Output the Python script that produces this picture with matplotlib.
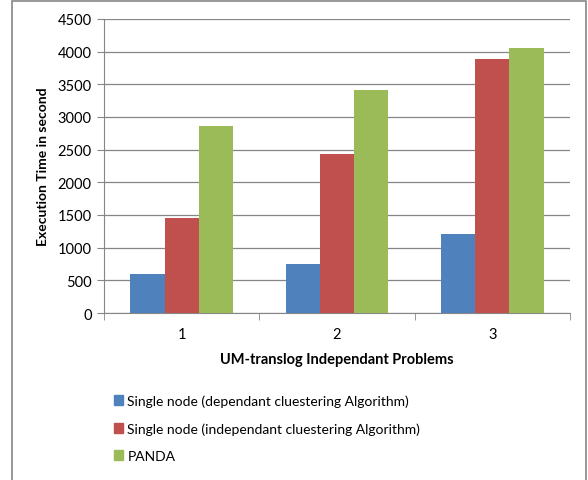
import matplotlib.pyplot as plt
import matplotlib.patches as mpatches
import numpy as np

plt.rcParams['font.family'] = ['Lato', 'DejaVu Sans']

problems = ['1', '2', '3']
dependant = [600, 750, 1210]
independant = [1450, 2440, 3890]
panda = [2860, 3410, 4060]
series_names = ['Single node (dependant cluestering Algorithm)',
                'Single node (independant cluestering Algorithm)',
                'PANDA']
colors = ['#4F81BD', '#C0504D', '#9BBB59']

fig = plt.figure(figsize=(5.88, 4.81), dpi=100)
ax = fig.add_axes([104/588, 1 - 314/481, (570-104)/588, (314-20)/481])

x = np.arange(1, len(problems) + 1)
w = 0.22
for i, vals in enumerate([dependant, independant, panda]):
    ax.bar(x + (i - 1) * w, vals, w, color=colors[i], zorder=3,
           label=series_names[i])

ax.set_xlim(0.5, 3.5)
ax.set_ylim(0, 4500)
ax.set_yticks(range(0, 4501, 500))
ax.set_xticks(x)
ax.set_xticklabels(problems)
ax.set_xticks([0.5, 1.5, 2.5, 3.5], minor=True)
ax.tick_params(axis='x', which='major', length=0, pad=10, labelsize=10.5)
ax.tick_params(axis='x', which='minor', length=5, color='#868686')
ax.tick_params(axis='y', length=5, color='#868686', labelsize=10.5, pad=4)
ax.yaxis.grid(True, color='#868686', linewidth=0.9, zorder=0)
for s in ['top', 'right']:
    ax.spines[s].set_visible(False)
for s in ['left', 'bottom']:
    ax.spines[s].set_color('#868686')

ax.set_ylabel('Execution Time in second', fontweight='bold', fontsize=10, labelpad=6)
ax.set_xlabel('UM-translog Independant Problems', fontweight='bold', fontsize=10.5, labelpad=8)

handles = [mpatches.Patch(color=c) for c in colors]
fig.legend(handles, series_names, loc='upper left',
           bbox_to_anchor=(101/588, 1 - 383/481), frameon=False,
           fontsize=10, handlelength=0.7, handleheight=0.7,
           handletextpad=0.3, labelspacing=1.08)

border = mpatches.Rectangle((12/588, -0.05), (586-12)/588, 1 - 2/481 + 0.05,
                            transform=fig.transFigure, fill=False,
                            edgecolor='#868686', linewidth=1.2)
fig.patches.append(border)

fig.savefig('out.png', dpi=100)
